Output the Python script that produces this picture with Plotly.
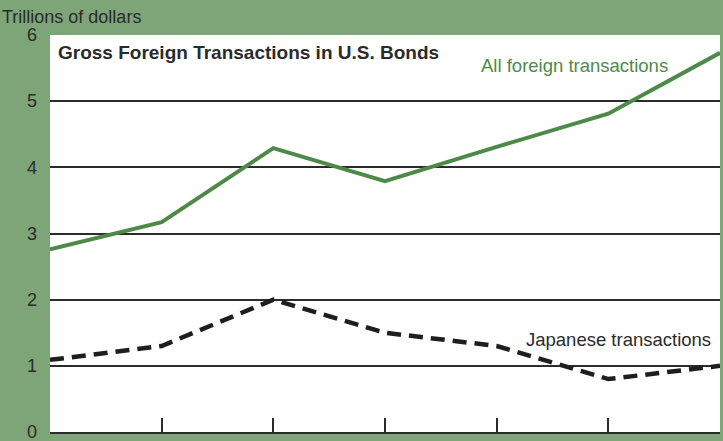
import plotly.graph_objects as go

# Annual observations (tick marks only, no year labels on the axis)
years = [1986, 1987, 1988, 1989, 1990, 1991, 1992]
all_foreign = [2.76, 3.17, 4.29, 3.79, 4.31, 4.81, 5.73]
japanese = [1.09, 1.30, 2.00, 1.50, 1.30, 0.80, 1.00]
y_ticks = [0, 1, 2, 3, 4, 5, 6]

GREEN_BG = "#7ea577"
LINE_GREEN = "#4d8a49"
INK = "#2b2b2b"
FONT = "Liberation Sans, Arial, sans-serif"

fig = go.Figure()

fig.add_trace(go.Scatter(
    x=years, y=all_foreign, mode="lines",
    line=dict(color=LINE_GREEN, width=4),
    showlegend=False, hoverinfo="skip",
))
fig.add_trace(go.Scatter(
    x=years, y=japanese, mode="lines",
    line=dict(color="#1e1e1e", width=4.5, dash="14px,8px"),
    showlegend=False, hoverinfo="skip",
))

fig.update_layout(
    width=723, height=441,
    margin=dict(l=50, r=3, t=35, b=9),
    paper_bgcolor=GREEN_BG,
    plot_bgcolor="white",
    font=dict(family=FONT, color=INK, size=18),
    xaxis=dict(
        range=[years[0], years[-1]],
        tickvals=years,
        showticklabels=False,
        ticks="inside", ticklen=14, tickwidth=1.5, tickcolor=INK,
        showgrid=False, zeroline=False,
        showline=True, linecolor=INK, linewidth=2,
        automargin=False,
    ),
    yaxis=dict(
        range=[0, 6],
        tickvals=y_ticks,
        ticktext=[str(v) for v in y_ticks],
        ticks="", ticklabelstandoff=12,
        ticklabeloverflow="allow",
        showgrid=True, gridcolor=INK, gridwidth=1.5,
        zeroline=False, showline=False,
        tickfont=dict(size=18, color=INK),
        automargin=False,
    ),
    annotations=[
        dict(text="Trillions of dollars", xref="paper", yref="paper",
             x=-50 / 670, y=1 + 18 / 397, xanchor="left", yanchor="middle",
             showarrow=False, font=dict(size=18, color=INK)),
        dict(text="<b>Gross Foreign Transactions in U.S. Bonds</b>",
             xref="paper", yref="paper",
             x=6 / 670, y=1 - 18 / 397, xanchor="left", yanchor="middle",
             showarrow=False, font=dict(size=19, color=INK)),
        dict(text="All foreign transactions", xref="paper", yref="paper",
             x=429 / 670, y=1 - 30 / 397, xanchor="left", yanchor="middle",
             showarrow=False, font=dict(size=18.5, color=LINE_GREEN)),
        dict(text="Japanese transactions", xref="paper", yref="paper",
             x=474 / 670, y=1 - 304 / 397, xanchor="left", yanchor="middle",
             showarrow=False, font=dict(size=18.5, color=INK)),
    ],
)

fig.write_html("out.html")
